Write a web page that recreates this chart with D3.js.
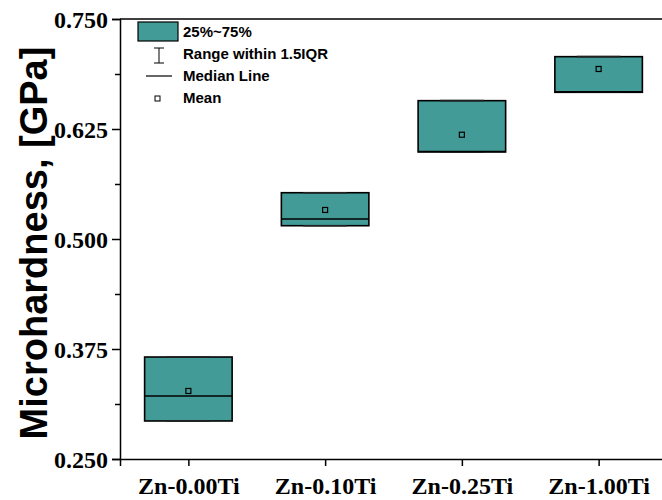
<!DOCTYPE html>
<html>
<head>
<meta charset="utf-8">
<script src="https://cdn.jsdelivr.net/npm/d3@7"></script>
<style>
  body { margin: 0; background: #fff; }
  svg { display: block; }
</style>
</head>
<body>
<div id="chart"></div>
<script>
// Data
const groups = ["Zn-0.00Ti", "Zn-0.10Ti", "Zn-0.25Ti", "Zn-1.00Ti"];
const q1 = [0.2932, 0.5151, 0.5989, 0.6667];
const q3 = [0.3659, 0.5526, 0.6572, 0.7072];
const median = [0.3216, 0.5227, 0.5995, 0.6672];
const mean = [0.3273, 0.5330, 0.6185, 0.6932];
const whiskLow = [0.2932, 0.5151, 0.5989, 0.6667];
const whiskHigh = [0.3659, 0.5526, 0.6572, 0.7072];
const yTicks = [0.250, 0.375, 0.500, 0.625, 0.750];

const margin = { top: 19, right: -5, bottom: 41, left: 120 };
const W = 662, H = 500;
const width = W - margin.left - margin.right;
const height = H - margin.top - margin.bottom;

const svg = d3.select("#chart").append("svg")
    .attr("width", W).attr("height", H);
const g = svg.append("g").attr("transform", `translate(${margin.left},${margin.top})`);

// x is a linear scale 0.5..4.5 like the original software
const x = d3.scaleLinear().domain([0.5, 4.5]).range([0, width]);
const y = d3.scaleLinear().domain([0.25, 0.75]).range([height, 0]);
const boxW = x(1.32) - x(1);
const capW = boxW / 2;

const teal = "#429b97";

// boxes
groups.forEach((name, i) => {
    const cx = x(i + 1);
    // whiskers
    g.append("line").attr("x1", cx).attr("x2", cx).attr("y1", y(whiskLow[i])).attr("y2", y(q1[i]))
        .style("stroke", "#000").style("stroke-width", 1.5);
    g.append("line").attr("x1", cx).attr("x2", cx).attr("y1", y(whiskHigh[i])).attr("y2", y(q3[i]))
        .style("stroke", "#000").style("stroke-width", 1.5);
    g.append("rect")
        .attr("x", cx - boxW).attr("y", y(q3[i]))
        .attr("width", boxW * 2).attr("height", y(q1[i]) - y(q3[i]))
        .style("fill", teal).style("stroke", "#000").style("stroke-width", 1.6);
    [whiskLow[i], whiskHigh[i]].forEach(v => {
        g.append("line").attr("x1", cx - capW).attr("x2", cx + capW).attr("y1", y(v)).attr("y2", y(v))
            .style("stroke", "#222").style("stroke-width", 1.6);
    });
    g.append("line")
        .attr("x1", cx - boxW).attr("x2", cx + boxW)
        .attr("y1", y(median[i])).attr("y2", y(median[i]))
        .style("stroke", "#000").style("stroke-width", 1.6);
    g.append("rect")
        .attr("x", x(i + 1) - 2.5).attr("y", y(mean[i]) - 2.5)
        .attr("width", 5).attr("height", 5)
        .style("fill", "none").style("stroke", "#000").style("stroke-width", 1.2);
});

// frame top
g.append("line").attr("x1", 0).attr("x2", width).attr("y1", 0).attr("y2", 0)
    .style("stroke", "#000").style("stroke-width", 1.5);
g.append("line").attr("x1", width).attr("x2", width).attr("y1", 0).attr("y2", height)
    .style("stroke", "#000").style("stroke-width", 1.5);

// axes
const xAxis = g.append("g")
    .attr("transform", `translate(0,${height})`)
    .call(d3.axisBottom(x).tickValues([1, 2, 3, 4]).tickFormat((d, i) => groups[i]).tickSizeOuter(0).tickSize(7).tickPadding(11));
const yAxis = g.append("g")
    .call(d3.axisLeft(y).tickValues(yTicks).tickFormat(d3.format(".3f")).tickSizeOuter(0).tickSize(8).tickPadding(4));
g.append("g")
    .call(d3.axisLeft(y).tickValues([0.3125, 0.4375, 0.5625, 0.6875]).tickFormat("").tickSizeOuter(0).tickSize(5))
    .select(".domain").remove();

[xAxis, yAxis].forEach(a => {
    a.select(".domain").style("stroke-width", 1.5);
    a.selectAll("text")
        .style("font-family", "'Liberation Serif', 'Times New Roman', serif")
        .style("font-weight", "bold")
        .style("font-size", "24px")
        .style("fill", "#000");
});
g.selectAll(".tick line").style("stroke-width", 1.5);
yAxis.selectAll("text").attr("dy", "0.34em");

// y title
svg.append("text")
    .attr("transform", `translate(47,${margin.top + height / 2 + 4}) rotate(-90)`)
    .attr("text-anchor", "middle")
    .style("font-family", "'Liberation Sans', Arial, sans-serif")
    .style("font-weight", "bold")
    .style("font-size", "38px")
    .text("Microhardness, [GPa]");

// legend
const legend = svg.append("g").style("font-family", "'Liberation Sans', Arial, sans-serif")
    .style("font-weight", "bold").style("font-size", "15px");
legend.append("rect").attr("x", 138).attr("y", 22).attr("width", 40).attr("height", 19)
    .style("fill", teal).style("stroke", "#000").style("stroke-width", 1.2);
legend.append("text").attr("x", 183).attr("y", 32).attr("dy", "0.35em").text("25%~75%");
legend.append("line").attr("x1", 159).attr("x2", 159).attr("y1", 48).attr("y2", 63).style("stroke", "#000");
legend.append("line").attr("x1", 154).attr("x2", 164).attr("y1", 48).attr("y2", 48).style("stroke", "#000");
legend.append("line").attr("x1", 154).attr("x2", 164).attr("y1", 63).attr("y2", 63).style("stroke", "#000");
legend.append("text").attr("x", 183).attr("y", 54).attr("dy", "0.35em").text("Range within 1.5IQR");
legend.append("line").attr("x1", 146).attr("x2", 172).attr("y1", 76).attr("y2", 76).style("stroke", "#000").style("stroke-width", 1.2);
legend.append("text").attr("x", 183).attr("y", 76).attr("dy", "0.35em").text("Median Line");
legend.append("rect").attr("x", 155).attr("y", 96).attr("width", 5).attr("height", 5)
    .style("fill", "#fff").style("stroke", "#000");
legend.append("text").attr("x", 183).attr("y", 98).attr("dy", "0.35em").text("Mean");
</script>
</body>
</html>
